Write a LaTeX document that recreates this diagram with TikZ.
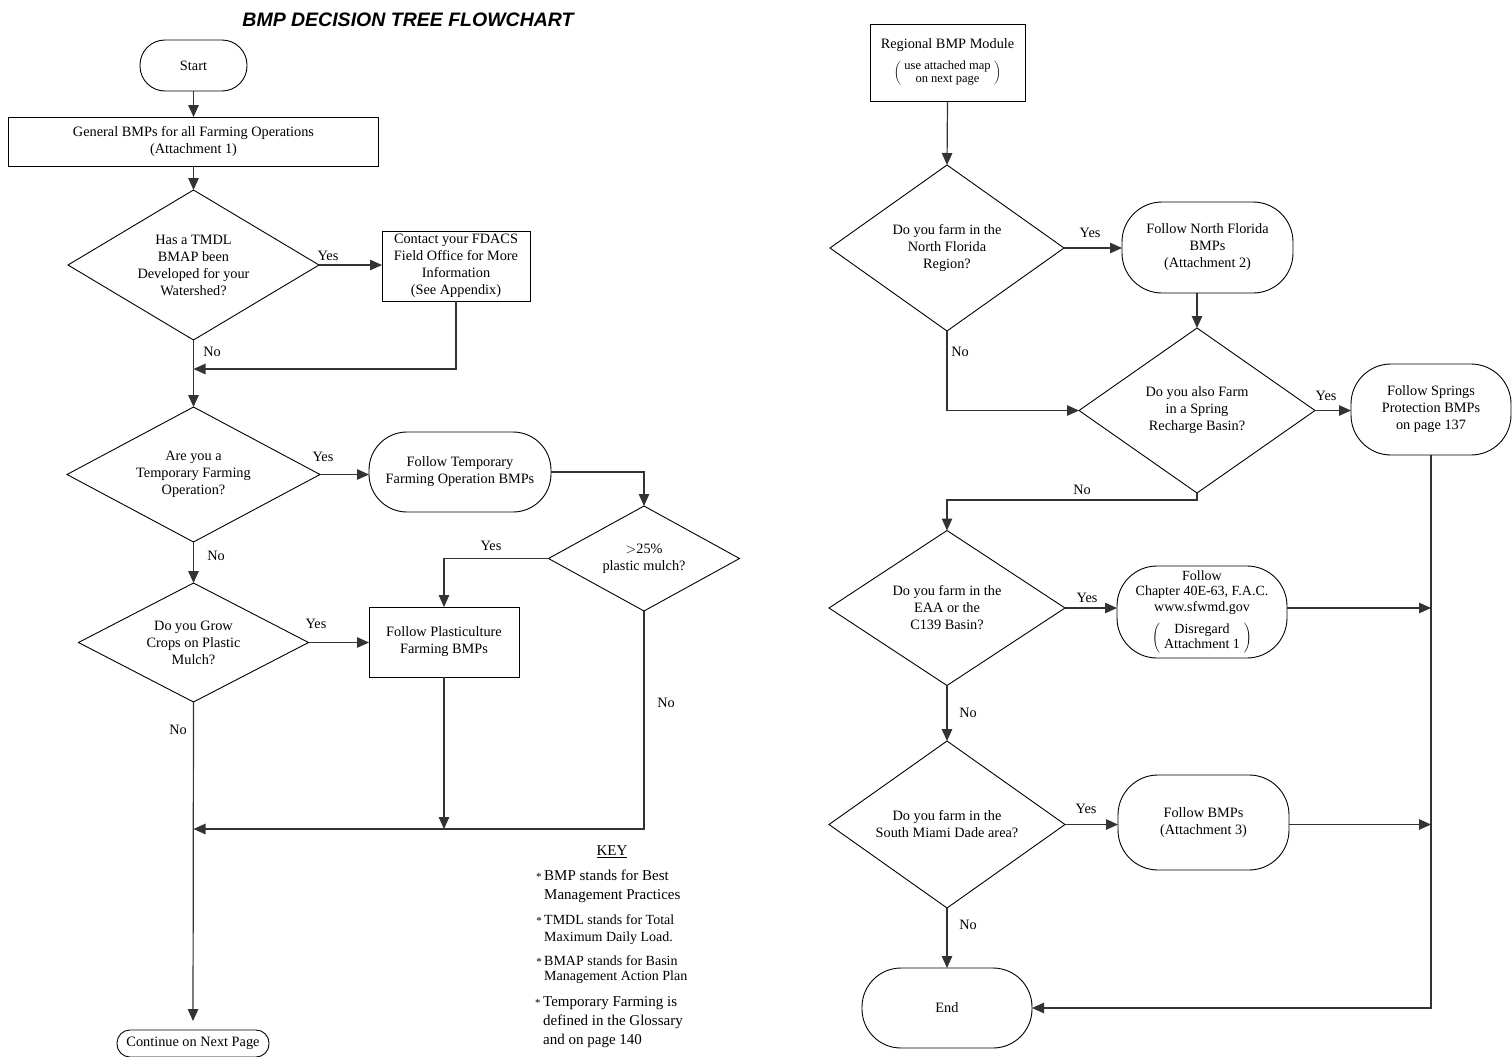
\documentclass[tikz,border=0pt]{standalone}
\usepackage{fontspec}
\setmainfont{Liberation Serif}
\newfontfamily\titlefont{Liberation Sans}
\usetikzlibrary{shapes.geometric,arrows.meta}
\newcommand\fsz{\fontsize{14.3}{17}\selectfont}
\newcommand\parenbox[1]{$\left(\mkern5mu\vcenter{\hbox{\begin{tabular}{@{}c@{}}#1\end{tabular}}}\mkern5mu\right)$}
\newcommand\keystar{\llap{{\fontsize{11}{11}\selectfont *}\,}}
\tikzset{
  shp/.style={draw=black, line width=0.9pt, align=center, font=\fsz, inner sep=0pt, outer sep=0pt},
  boxn/.style={shp, rectangle},
  termn/.style={shp, rectangle},
  dia/.style={shp, diamond},
  conn/.style={line width=1.2pt, draw=black!80},
  arr/.style={conn, -{Triangle[length=12pt,width=10.5pt]}},
  lbl/.style={font=\fsz, inner sep=0pt},
  keyn/.style={inner sep=0pt, align=left, anchor=west},
}
\begin{document}
\begin{tikzpicture}[x=1pt,y=-1pt]
\fill[white] (0,0) rectangle (1512,1057);
\useasboundingbox (0,0) rectangle (1512,1057);

% title
\node[font=\titlefont\bfseries\itshape\fontsize{19.5}{22}\selectfont, inner sep=0pt] (title) at (408,20) {BMP DECISION TREE FLOWCHART};

% ---------------- left column ----------------
\node[termn, rounded corners=25pt, minimum width=107pt, minimum height=51pt] (start) at (193.5,65.5) {Start};
\node[boxn, minimum width=370pt, minimum height=49pt] (gen) at (193.5,141.5) {General BMPs for all Farming Operations\\(Attachment 1)};
\node[dia, minimum width=251pt, minimum height=150pt, shape aspect=1.67] (d1) at (193.5,265) {Has a TMDL\\BMAP been\\Developed for your\\Watershed?};
\node[boxn, minimum width=148pt, minimum height=70pt] (contact) at (456,266) {Contact your FDACS\\Field Office for More\\Information\\(See Appendix)};
\node[dia, minimum width=253pt, minimum height=135pt, shape aspect=1.87] (d2) at (193.5,474.5) {Are you a\\Temporary Farming\\Operation?};
\node[termn, rounded corners=38pt, minimum width=182pt, minimum height=80pt] (temp) at (460,472) {Follow Temporary\\Farming Operation BMPs};
\node[dia, minimum width=191pt, minimum height=105pt, shape aspect=1.82] (d25) at (644,558.5) {$>$25\%\\plastic mulch?};
\node[dia, minimum width=230pt, minimum height=119pt, shape aspect=1.93] (d3) at (193.5,642.5) {Do you Grow\\Crops on Plastic\\Mulch?};
\node[boxn, minimum width=150pt, minimum height=70pt] (plast) at (444,642) {Follow Plasticulture\\Farming BMPs};
\node[termn, rounded corners=13pt, minimum width=152pt, minimum height=27pt] (cont) at (193,1043.5) {Continue on Next Page};

\coordinate (j1) at (193.5,369);
\coordinate (j2) at (193.5,829);

\draw[arr] (start.south) -- (start.south |- gen.north);
\draw[arr] (gen.south -| d1.north) -- (d1.north);
\draw[arr] (d1.east) -- (d1.east -| contact.west);
\draw[arr] (contact.south) |- (j1);
\draw[arr] (d1.south) -- (d2.north);
\draw[arr] (d2.east) -- (d2.east -| temp.west);
\draw[arr] (temp.east) -| (d25.north);
\draw[arr] (d2.south) -- (d3.north);
\draw[arr] (d3.east) -- (d3.east -| plast.west);
\draw[arr] (d25.west) -| (plast.north);
\draw[arr] (d25.south) |- (j2);
\draw[arr] (plast.south) -- (plast.south |- j2);
\draw[arr, shorten >=9pt] (d3.south) -- (cont.north);

\node[lbl] (y1) at (328,256) {Yes};
\node[lbl] (n1) at (212,352) {No};
\node[lbl] (y2) at (323,457) {Yes};
\node[lbl] (n2) at (216,556) {No};
\node[lbl] (y25) at (491,546) {Yes};
\node[lbl] (y3) at (316,624) {Yes};
\node[lbl] (n25) at (666,703) {No};
\node[lbl] (n3) at (178,730) {No};

% key
\node[inner sep=0pt, font=\fontsize{15}{19}\selectfont] (key) at (612,852) {\underline{KEY}};
\node[keyn, font=\fontsize{15}{19}\selectfont] (k1) at (544,886.5) {\keystar BMP stands for Best\\Management Practices};
\node[keyn, font=\fontsize{14}{17}\selectfont] (k2) at (544,929.5) {\keystar TMDL stands for Total\\Maximum Daily Load.};
\node[keyn, font=\fontsize{14}{15}\selectfont] (k3) at (544,969.5) {\keystar BMAP stands for Basin\\Management Action Plan};
\node[keyn, font=\fontsize{15}{19}\selectfont] (k4) at (543,1022) {\keystar Temporary Farming is\\defined in the Glossary\\and on page 140};

% ---------------- right column ----------------
\node[boxn, minimum width=155pt, minimum height=77pt] (reg) at (947.5,62.5) {Regional BMP Module\\[8pt]{\fontsize{12.5}{13}\selectfont\parenbox{use attached map\\on next page}}};
\node[dia, minimum width=234pt, minimum height=166pt, shape aspect=1.41] (nf) at (947,248) {Do you farm in the\\North Florida\\Region?};
\node[termn, rounded corners=40pt, minimum width=171pt, minimum height=91pt] (nfs) at (1207.5,247.5) {Follow North Florida\\BMPs\\(Attachment 2)};
\node[dia, minimum width=236pt, minimum height=165pt, shape aspect=1.43] (spring) at (1197,410.5) {Do you also Farm\\in a Spring\\Recharge Basin?};
\node[termn, rounded corners=40pt, minimum width=160pt, minimum height=91pt] (springs) at (1431,409.5) {Follow Springs\\Protection BMPs\\on page 137};
\node[dia, minimum width=236pt, minimum height=155pt, shape aspect=1.52] (eaa) at (947,608) {Do you farm in the\\EAA or the\\C139 Basin?};
\node[termn, rounded corners=40pt, minimum width=170pt, minimum height=92pt, font=\fontsize{14}{15.5}\selectfont] (chapter) at (1202,612) {Follow\\Chapter 40E-63, F.A.C.\\www.sfwmd.gov\\[7pt]\parenbox{Disregard\\Attachment 1}};
\node[dia, minimum width=236pt, minimum height=167pt, shape aspect=1.41] (south) at (947,824.5) {Do you farm in the\\South Miami Dade area?};
\node[termn, rounded corners=40pt, minimum width=171pt, minimum height=95pt] (fbmp) at (1203.5,822.5) {Follow BMPs\\(Attachment 3)};
\node[termn, rounded corners=39pt, minimum width=170pt, minimum height=80pt] (end) at (947,1008) {End};

\draw[arr] (reg.south) -- (nf.north);
\draw[arr] (nf.east) -- (nf.east -| nfs.west);
\draw[arr] (spring.north |- nfs.south) -- (spring.north);
\draw[arr] (nf.south) |- (spring.west);
\draw[arr] (spring.east) -- (spring.east -| springs.west);
\draw[arr] (spring.south) -- ++(0,7) -| (eaa.north);
\draw[arr] (eaa.east) -- (eaa.east -| chapter.west);
\draw[arr] (eaa.east -| chapter.east) -- (eaa.east -| springs.south);
\draw[arr] (eaa.south) -- (south.north);
\draw[arr] (south.east) -- (south.east -| fbmp.west);
\draw[arr] (south.east -| fbmp.east) -- (south.east -| springs.south);
\draw[arr] (south.south) -- (end.north);
\draw[arr] (springs.south) |- (end.east);

\node[lbl] (ynf) at (1090,233) {Yes};
\node[lbl] (nnf) at (960,352) {No};
\node[lbl] (ysp) at (1326,396) {Yes};
\node[lbl] (nsp) at (1082,490) {No};
\node[lbl] (yea) at (1087,598) {Yes};
\node[lbl] (nea) at (968,713) {No};
\node[lbl] (yso) at (1086,809) {Yes};
\node[lbl] (nso) at (968,925) {No};
\end{tikzpicture}
\end{document}
